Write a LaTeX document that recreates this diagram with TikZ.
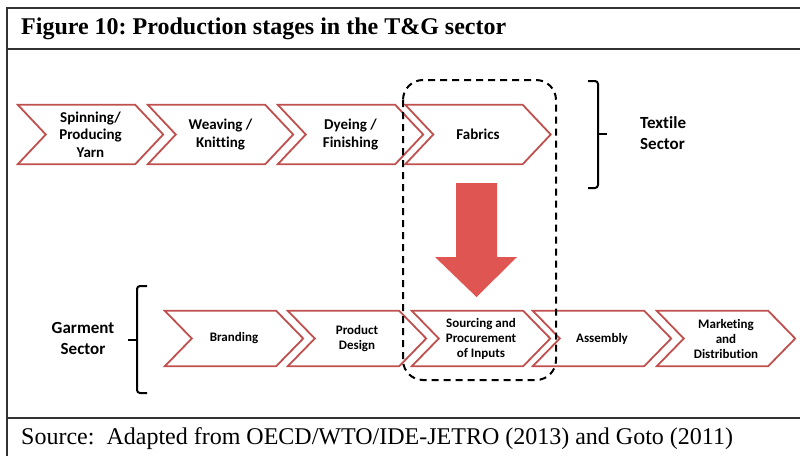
\documentclass[tikz,border=0pt]{standalone}
\usepackage{fontspec}
\setmainfont{Liberation Serif}
\newfontfamily\calfont[Ligatures=NoCommon]{Carlito}
\definecolor{chevred}{RGB}{192,80,77}
\definecolor{arrred}{RGB}{223,85,81}
\definecolor{framegray}{RGB}{50,50,50}
\newcommand{\chevdraw}[2]{% node name, depth
  \draw[chevline] (#1.north west) -- ([xshift=-#2]#1.north east) -- (#1.east)
    -- ([xshift=-#2]#1.south east) -- (#1.south west) -- ([xshift=#2]#1.west) -- cycle;}
\begin{document}
\begin{tikzpicture}[x=1pt,y=-1pt,
  chevline/.style={draw=chevred,line width=1.8pt,line join=miter},
  toptext/.style={font=\calfont\bfseries\fontsize{15}{17.5}\selectfont,align=center,inner sep=0pt,minimum height=59pt,minimum width=145pt},
  bottext/.style={font=\calfont\bfseries\fontsize{13}{15}\selectfont,align=center,inner sep=0pt,minimum height=55pt,minimum width=138pt},
  sectortext/.style={font=\calfont\bfseries\fontsize{17}{21}\selectfont,inner sep=0pt},
  bracestyle/.style={draw=black,line width=2pt,rounded corners=3pt},
  framestyle/.style={draw=framegray,line width=1.5pt}]
\useasboundingbox (0,0) rectangle (800,455);
% frame
\draw[framestyle] (800,8) -- (7,8) -- (7,456);
\draw[framestyle] (7,49) -- (800,49);
\draw[framestyle] (7,418) -- (800,418);
\node[anchor=west,font=\bfseries\fontsize{24}{27}\selectfont,inner sep=0pt] (title) at (21,28.5) {Figure 10:\ Production stages in the T\&G sector};
\node[anchor=west,font=\fontsize{24}{27}\selectfont,inner sep=0pt] (source) at (21,439) {Source:\ \ Adapted from OECD/WTO/IDE-JETRO (2013) and Goto (2011)};
% top row
\node[toptext] (spin) at (90.5,134.5) {Spinning/\\Producing\\Yarn};
\node[toptext] (weave) at (220.5,134.5) {Weaving /\\Knitting};
\node[toptext] (dye) at (350.5,134.5) {Dyeing /\\Finishing};
\node[toptext] (fab) at (478,134.5) {Fabrics};
\foreach \n in {spin,weave,dye,fab} {\chevdraw{\n}{28pt}}
% bottom row
\node[bottext] (brand) at (234,338.5) {Branding};
\node[bottext] (design) at (357,338.5) {Product\\Design};
\node[bottext] (source2) at (481,338.5) {Sourcing and\\Procurement\\of Inputs};
\node[bottext] (assembly) at (602,338.5) {Assembly};
\node[bottext] (market) at (726,338.5) {Marketing\\and\\Distribution};
\foreach \n in {brand,design,source2,assembly,market} {\chevdraw{\n}{27pt}}
% dashed box
\draw[black,line width=2pt,dash pattern=on 7pt off 5pt,rounded corners=20pt] (403,80) rectangle (556,380);
% red arrow
\fill[arrred] (456,183) -- (497,183) -- (497,257) -- (517,257) -- (476.5,297) -- (435,257) -- (456,257) -- cycle;
% braces
\draw[bracestyle] (588,81) -- (598,81) -- (598,134) -- (598,188) -- (588,188);
\draw[bracestyle] (598,134) -- (607,134);
\node[sectortext,anchor=west,align=left] (textile) at (640,133) {Textile\\Sector};
\draw[bracestyle] (147,286) -- (137,286) -- (137,340) -- (137,393) -- (147,393);
\draw[bracestyle] (137,340) -- (128,340);
\node[sectortext,align=center] (garment) at (83,338) {Garment\\Sector};
\end{tikzpicture}
\end{document}
